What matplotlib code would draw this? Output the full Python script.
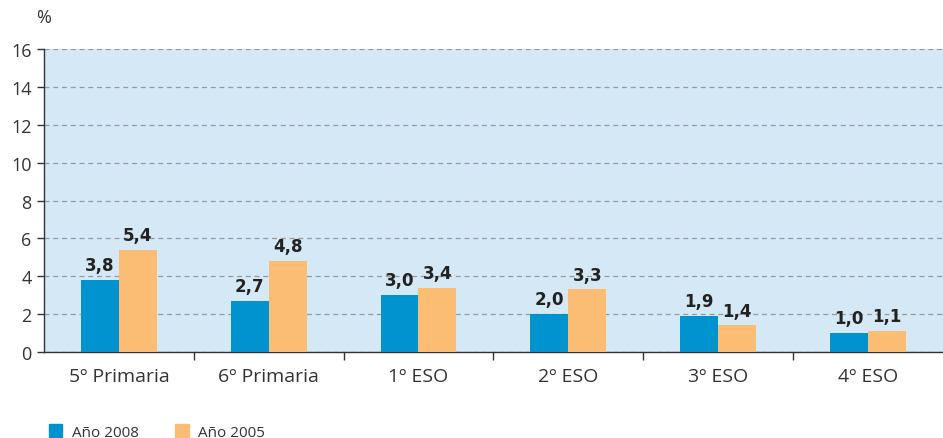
import matplotlib
matplotlib.use("Agg")
import matplotlib.pyplot as plt
import numpy as np
from matplotlib.patches import Patch

categories = ["5º Primaria", "6º Primaria", "1º ESO", "2º ESO", "3º ESO", "4º ESO"]
anio_2008 = [3.8, 2.7, 3.0, 2.0, 1.9, 1.0]
anio_2005 = [5.4, 4.8, 3.4, 3.3, 1.4, 1.1]
series_names = ["Año 2008", "Año 2005"]
yticks = [0, 2, 4, 6, 8, 10, 12, 14, 16]

blue = "#0093d0"
orange = "#fbbd74"
bg = "#d4e8f5"
txt = "#333333"

plt.rcParams['font.family'] = ['Open Sans', 'DejaVu Sans']

fig = plt.figure(figsize=(9.43, 4.39), dpi=100)
ax = fig.add_axes([0.0467, 0.196, 0.953, 0.69])
ax.set_facecolor(bg)

x = np.arange(len(categories))
w = 0.253
b1 = ax.bar(x - w/2, anio_2008, w, color=blue, zorder=3)
b2 = ax.bar(x + w/2, anio_2005, w, color=orange, zorder=3)

def fmt(v):
    return f"{v:.1f}".replace(".", ",")

for bars, vals in ((b1, anio_2008), (b2, anio_2005)):
    for r, v in zip(bars, vals):
        ax.text(r.get_x() + r.get_width()/2, v + 0.3, fmt(v), ha="center", va="bottom",
                fontsize=12, fontweight="bold", color="#222222",
                family=['DejaVu Sans Condensed', 'DejaVu Sans'], zorder=4)

ax.set_xlim(-0.5, len(categories) - 0.5)
ax.set_ylim(0, 16)
ax.set_yticks(yticks)
ax.set_yticklabels([str(t) for t in yticks], fontsize=13, color=txt)
ax.yaxis.grid(True, linestyle=(0, (4, 3)), color="#999999", linewidth=0.9, zorder=1)
ax.set_axisbelow(True)

ax.set_xticks(x)
ax.set_xticklabels(categories, fontsize=14, color=txt)
ax.tick_params(axis="x", which="major", length=0, pad=11)
ax.set_xticks(np.arange(0.5, len(categories) - 0.5, 1), minor=True)
ax.tick_params(axis="x", which="minor", length=6, color="#333333", width=1)
ax.tick_params(axis="y", length=5, color="#333333", width=1, pad=4)

for s in ("top", "right"):
    ax.spines[s].set_visible(False)
for s in ("left", "bottom"):
    ax.spines[s].set_color("#333333")
    ax.spines[s].set_linewidth(1)

fig.text(0.038, 0.958, "%", fontsize=13, color=txt, ha="left", va="center")

handles = [Patch(color=blue), Patch(color=orange)]
fig.legend(handles, series_names, loc="lower left", bbox_to_anchor=(0.037, -0.035),
           ncol=2, frameon=False, fontsize=11, handlelength=0.9, handleheight=0.9,
           columnspacing=2.4, handletextpad=0.6, labelcolor=txt)

fig.savefig("out.png", dpi=100)
